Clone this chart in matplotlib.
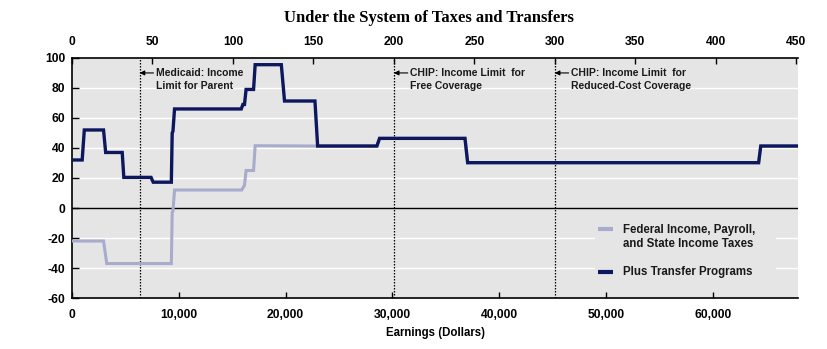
import matplotlib.pyplot as plt
import matplotlib.ticker as mticker
from matplotlib.patches import Rectangle

# poverty guideline used for the top axis (earnings as % of poverty)
poverty_line = 15070

# Federal income, payroll and state income taxes (vertices of the step line)
tax_earnings = [0, 2950, 3250, 9300, 9380, 9450, 9600, 15900, 16050, 16150, 16300,
                17000, 17150, 23000, 28550, 28800, 36800, 37050, 64300, 64500, 68000]
tax_rate = [-22, -22, -37, -37, -3, -2, 12, 12, 14, 15, 25,
            25, 41.5, 41.3, 41.3, 46.4, 46.4, 30.2, 30.2, 41.3, 41.3]

# Plus transfer programs
transfer_earnings = [0, 950, 1150, 2950, 3150, 4700, 4850, 7400, 7600, 9300, 9380, 9450,
                     9600, 15850, 16000, 16150, 16300, 17000, 17150, 19600, 19900,
                     22750, 23000, 28550, 28800, 36800, 37050, 64300, 64500, 68000]
transfer_rate = [32, 32, 52, 52, 37, 37, 20.4, 20.4, 17.2, 17.2, 50, 51,
                 66, 66, 69, 69, 79, 79, 95.5, 95.5, 71.3,
                 71.3, 41.3, 41.3, 46.4, 46.4, 30.2, 30.2, 41.3, 41.3]

# program eligibility limits (% of poverty)
limit_pct = [42, 200, 300]
limit_labels = ['Medicaid: Income\nLimit for Parent',
                'CHIP: Income Limit  for\nFree Coverage',
                'CHIP: Income Limit  for\nReduced-Cost Coverage']

series_labels = ['Federal Income, Payroll,\nand State Income Taxes',
                 'Plus Transfer Programs']

bg = '#e5e5e5'
dark = '#0c175e'
light = '#a7abcc'
txt = '#1a1a1a'

plt.rcParams['font.family'] = ['Liberation Sans', 'DejaVu Sans']
plt.rcParams['axes.unicode_minus'] = False

fig = plt.figure(figsize=(8.27, 3.49), dpi=100)
ax = fig.add_axes([0.0871, 0.146, 0.878, 0.688])
ax.set_facecolor(bg)

ax.set_xlim(0, 68000)
ax.set_ylim(-60, 100)

ax.set_yticks(range(-60, 101, 20))
ax.set_xticks(range(0, 60001, 10000))
ax.xaxis.set_major_formatter(mticker.StrMethodFormatter('{x:,.0f}'))
for y in [-40, -20, 20, 40, 60, 80]:
    ax.axhline(y, color='white', linewidth=1.0, zorder=1)
ax.axhline(0, color='black', linewidth=1.0, zorder=2)

for pct, label in zip(limit_pct, limit_labels):
    xv = pct * poverty_line / 100
    ax.axvline(xv, color='black', linestyle=(0, (1.2, 1.2)), linewidth=0.9, zorder=2)
    ax.annotate('', xy=(xv, 90), xytext=(xv + 1300, 90),
                arrowprops=dict(arrowstyle='-|>', color='black', lw=0.8,
                                mutation_scale=7, shrinkA=0, shrinkB=0))
    ax.text(xv + 1500, 85.5, label, fontsize=7.5, fontweight='bold',
            color=txt, va='center', ha='left', linespacing=1.35)

ax.plot(tax_earnings, tax_rate, color=light, linewidth=2.2, zorder=3,
        solid_joinstyle='miter')
ax.plot(transfer_earnings, transfer_rate, color=dark, linewidth=2.4, zorder=4,
        solid_joinstyle='miter')

# legend drawn by hand so the handle lines up with the first text line
ax.add_patch(Rectangle((0.720, 0.035), 0.250, 0.31, transform=ax.transAxes,
                       facecolor=bg, edgecolor='none', zorder=5))
for color, label, y_line, y_text in zip([light, dark], series_labels,
                                        [0.286, 0.107], [0.253, 0.107]):
    ax.plot([0.725, 0.7455], [y_line, y_line], transform=ax.transAxes,
            color=color, linewidth=3, solid_capstyle='butt', zorder=6)
    ax.text(0.759, y_text, label, transform=ax.transAxes, fontsize=8.3,
            fontweight='bold', color=txt, va='center', ha='left',
            linespacing=1.25, zorder=6)

ax.spines['right'].set_visible(False)
ax.spines['top'].set_visible(False)
for s in ['left', 'bottom']:
    ax.spines[s].set_linewidth(1.2)
ax.tick_params(axis='x', direction='in', length=4, width=1, labelsize=8.7, pad=8)
ax.tick_params(axis='y', direction='in', length=5, width=1, labelsize=8.7, pad=5)
for lab in ax.get_xticklabels() + ax.get_yticklabels():
    lab.set_fontweight('bold')

top = ax.secondary_xaxis('top', functions=(lambda x: x / poverty_line * 100,
                                            lambda p: p * poverty_line / 100))
top.set_xticks(range(0, 451, 50))
top.spines['top'].set_linewidth(1.2)
top.tick_params(direction='in', length=4, width=1, labelsize=8.7, pad=7)
for lab in top.get_xticklabels():
    lab.set_fontweight('bold')

ax.set_xlabel('Earnings (Dollars)', fontsize=8.3, fontweight='bold', labelpad=4)

fig.text(0.519, 0.948, 'Under the System of Taxes and Transfers', ha='center',
         va='center', fontsize=12, fontweight='bold', family='Liberation Serif')

fig.savefig('out.png', dpi=100)
